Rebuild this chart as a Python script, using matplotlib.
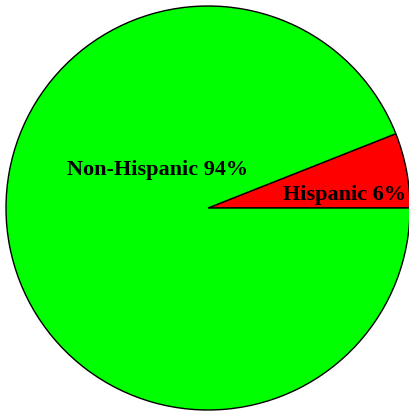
import matplotlib
matplotlib.use("Agg")
import matplotlib.pyplot as plt

labels = ["Hispanic", "Non-Hispanic"]
shares = [6, 94]
colors = ["#ff0000", "#00ff00"]

fig = plt.figure(figsize=(4.09, 4.13), dpi=100)
ax = fig.add_axes([0, 0, 1, 1])

cx, cy, r = 208, 413 - 208, 202
ax.pie(shares, colors=colors, startangle=0, counterclock=True,
       center=(cx, cy), radius=r, frame=True,
       wedgeprops=dict(edgecolor="black", linewidth=1.0))

# label positions, offsets from centre in pixels
label_pos = [(137, 13), (-50, 38)]
for lab, s, (dx, dy) in zip(labels, shares, label_pos):
    ax.text(cx + dx, cy + dy, f"{lab} {s}%", ha="center", va="center",
            fontsize=16, fontweight="bold", family="Liberation Serif")

ax.set_xlim(0, 409)
ax.set_ylim(0, 413)
ax.set_aspect("equal")
ax.axis("off")

fig.savefig("out.png", dpi=100)
